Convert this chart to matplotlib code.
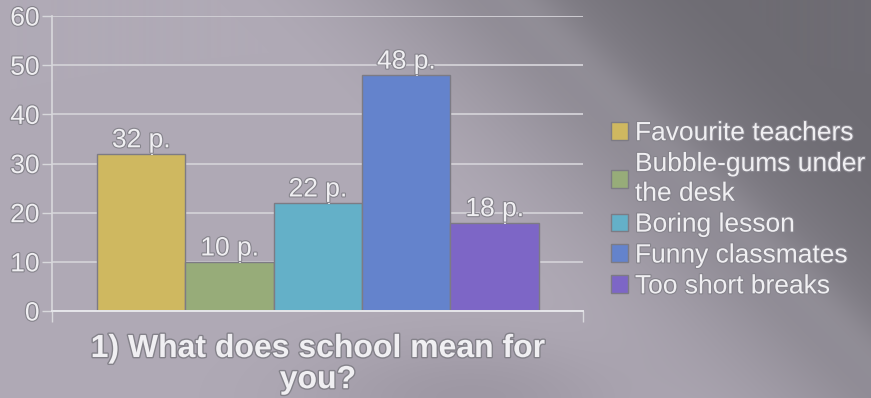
import matplotlib
matplotlib.use("Agg")
import matplotlib.pyplot as plt
import matplotlib.patheffects as pe
from matplotlib.patches import Patch
import numpy as np

plt.rcParams["font.family"] = ["Liberation Sans", "DejaVu Sans"]

# survey answers
answers = ["Favourite teachers", "Bubble-gums under\nthe desk", "Boring lesson",
           "Funny classmates", "Too short breaks"]
points = [32, 10, 22, 48, 18]
point_labels = ["32 p.", "10 p.", "22 p.", "48 p.", "18 p."]
colors = ["#cfb860", "#97ac79", "#64b0c8", "#6483cc", "#7d66c6"]
y_ticks = [0, 10, 20, 30, 40, 50, 60]
title = "1) What does school mean for\nyou?"

TXT = "#f0eff2"
outline = [pe.withStroke(linewidth=1.6, foreground="#86848c")]

W, H = 871, 398
fig = plt.figure(figsize=(W / 100, H / 100), dpi=100)

# gray slide background: light on the left, darker towards the top-right
bg = fig.add_axes([0, 0, 1, 1])
yy, xx = np.mgrid[0:H, 0:W]
u = xx / W - 0.45 * yy / H
t = np.clip((u - 0.25) / 0.6, 0, 1)
t = t * t * (3 - 2 * t)
light = np.array([176, 170, 182]) / 255
dark = np.array([110, 108, 115]) / 255
img = light[None, None, :] * (1 - t[..., None]) + dark[None, None, :] * t[..., None]
band = 0.035 * np.exp(-((u - 0.6) / 0.04) ** 2)
blob = -0.07 * np.exp(-(((xx - 470) / 160.0) ** 2 + ((yy - 398) / 60.0) ** 2))
img = np.clip(img + (band + blob)[..., None], 0, 1)
bg.imshow(img, aspect="auto", extent=[0, W, H, 0])
bg.set_axis_off()

ax = fig.add_axes([52 / W, 87 / H, 531 / W, 295 / H])
ax.patch.set_alpha(0)
x = np.arange(len(points))
bars = ax.bar(x, points, width=1.0, color=colors, edgecolor="#7d7b84",
              linewidth=1.0, zorder=3)

ax.set_xlim(-1.01, 5.0)
ax.set_ylim(0, 60)
ax.set_yticks(y_ticks)
ax.set_yticklabels([str(v) for v in y_ticks], color=TXT, fontsize=19,
                   path_effects=outline)
ax.set_xticks([-1.01, 5.0])
ax.set_xticklabels([])
ax.tick_params(axis="y", length=7, width=1, color="#d8d8dc", pad=2)
ax.tick_params(axis="x", length=8, width=1, color="#d8d8dc")
ax.grid(axis="y", color="#cfcdd3", linewidth=1.4, zorder=1)
ax.set_axisbelow(True)
for side in ("top", "right"):
    ax.spines[side].set_visible(False)
ax.spines["left"].set_color("#d8d8dc")
ax.spines["left"].set_linewidth(1.2)
ax.spines["bottom"].set_color("#e6e6ea")
ax.spines["bottom"].set_linewidth(1.4)
ax.spines["left"].set_zorder(4)
ax.spines["bottom"].set_zorder(4)

# value labels with a short leader line to the bar top
for xi, val, lab in zip(x, points, point_labels):
    ax.plot([xi + 0.12, xi + 0.12], [val, val + 1.2], color="#f4f4f6",
            linewidth=1.3, zorder=5)
    ax.annotate(lab, (xi, val), xytext=(0, 1), textcoords="offset points",
                ha="center", va="bottom", fontsize=19, color=TXT,
                path_effects=outline, zorder=6)

handles = [Patch(facecolor=c, edgecolor="#7d7b84") for c in colors]
leg = fig.legend(handles, answers, loc="upper left", bbox_to_anchor=(598 / W, 1 - 108 / H),
                 frameon=False, fontsize=19, handlelength=0.65, handleheight=0.65,
                 handletextpad=0.25, labelspacing=0.26, borderpad=0)
for txt in leg.get_texts():
    txt.set_color(TXT)
    txt.set_path_effects(outline)
    txt.set_linespacing(1.3)

fig.text(318 / W, 1 - 334 / H, title, ha="center", va="top", fontsize=23,
         fontweight="bold", color=TXT, linespacing=1.05,
         path_effects=[pe.withStroke(linewidth=2, foreground="#84828a")])

fig.savefig("out.png", dpi=100)
